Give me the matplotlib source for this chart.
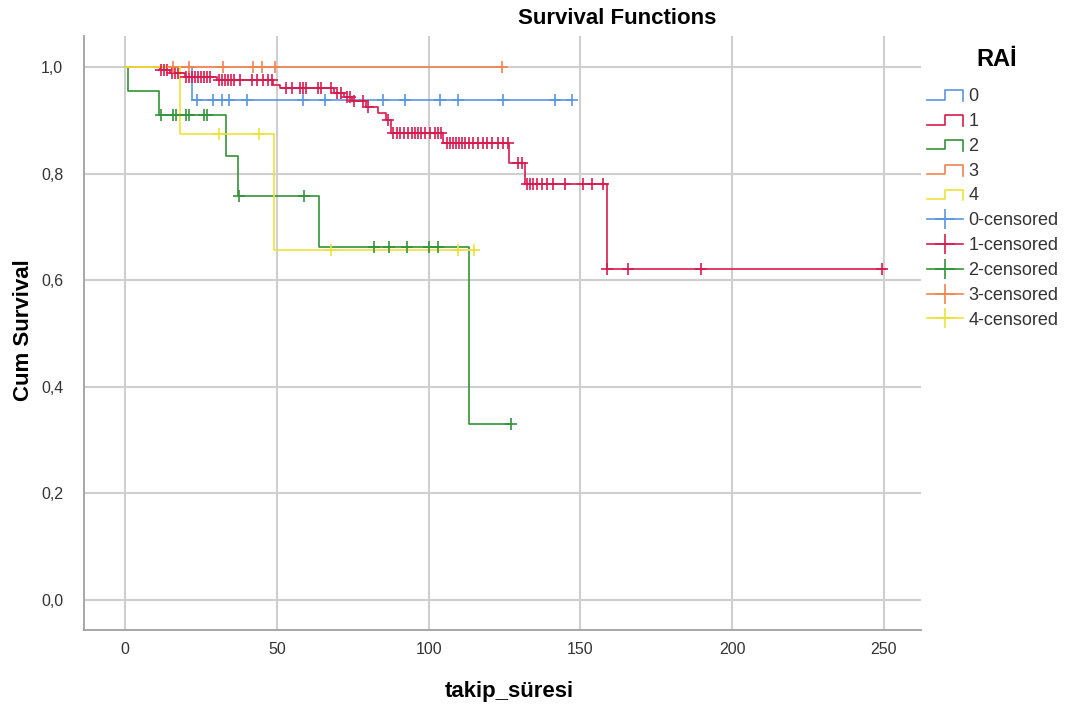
import matplotlib
matplotlib.use('Agg')
import matplotlib.pyplot as plt
import numpy as np
from matplotlib.lines import Line2D
from matplotlib.legend_handler import HandlerBase

plt.rcParams['font.family'] = ['Liberation Sans', 'DejaVu Sans']

# Kaplan-Meier steps, one set per RAİ group
groups = ['0', '1', '2', '3', '4']
colors = ['#5a96e0', '#d81b4f', '#33923a', '#f2844e', '#ece237']

# group 0
events_0 = [22.0]
surv_0 = [0.9375]
censored_0 = [23.7, 29, 32, 34.3, 40.2, 58.7, 66, 85, 92.3, 103.8, 109.8, 124.6, 141.7, 147.3]
end_0 = 147.3

# group 1
events_1 = [11.5, 14.8, 19.8, 30.3, 48.8, 51.1, 68.9, 72.2, 74.8, 79.4, 83.4, 86.0, 87.7,
            104.8, 126.6, 131.8, 158.8]
surv_1 = [0.994, 0.988, 0.982, 0.976, 0.966, 0.960, 0.952, 0.944, 0.937, 0.925, 0.914, 0.901,
          0.876, 0.857, 0.820, 0.780, 0.621]
censored_1 = [12, 13, 14, 15.5, 16.5, 17.5,
              20, 21, 22, 23, 24, 25, 26, 27, 28,
              31, 32, 33, 34, 35, 36, 38, 41.9, 43.5, 45.5, 47.1, 48.5,
              53, 55, 57.5, 58.5, 59.5, 63.5, 64.5, 68,
              70, 71, 73, 74, 75.5, 78.4, 80.1, 86.5,
              88.3, 89.6, 90.6, 91.9, 93.2, 94.5, 95.5, 96.5, 97.5, 98.8, 100.5, 102.1, 103.1, 104.2,
              106.1, 107.1, 108.1, 109.1, 110.1, 111.1, 112.1, 113.4, 114.7, 116.3, 118, 119.3,
              121, 122.9, 124.6, 126.2,
              129.5, 130.8,
              132.5, 133.5, 134.5, 135.8, 137.4, 139.1, 141.1, 145, 151, 153.9, 157.5,
              158.9, 165.8, 189.8, 249.5]
end_1 = 250.5

# group 2
events_2 = [1.0, 11.2, 33.2, 37.1, 64.0, 113.2]
surv_2 = [0.955, 0.909, 0.833, 0.758, 0.663, 0.331]
censored_2 = [11.9, 15.9, 16.8, 20.1, 21.0, 26.1, 26.9, 37.5, 59.1, 82, 87, 93, 100, 103, 127.1]
end_2 = 127.1

# group 3
events_3 = []
surv_3 = []
censored_3 = [15.8, 21.1, 32.3, 42.2, 45.2, 49.4, 124.3]
end_3 = 124.3

# group 4
events_4 = [18.1, 49.1]
surv_4 = [0.875, 0.656]
censored_4 = [31, 44.2, 67.9, 109.8, 115.0]
end_4 = 115.3

all_events = [events_0, events_1, events_2, events_3, events_4]
all_surv = [surv_0, surv_1, surv_2, surv_3, surv_4]
all_cens = [censored_0, censored_1, censored_2, censored_3, censored_4]
all_end = [end_0, end_1, end_2, end_3, end_4]

y_ticks = [0.0, 0.2, 0.4, 0.6, 0.8, 1.0]
x_ticks = [0, 50, 100, 150, 200, 250]


class HandlerStep(HandlerBase):
    # small step symbol like the SPSS legend
    def create_artists(self, legend, orig_handle, xdescent, ydescent, width, height, fontsize, trans):
        x0, y0 = -xdescent, -ydescent
        xs = [x0, x0 + width * 0.5, x0 + width * 0.5, x0 + width, x0 + width]
        ys = [y0 + height * 0.1, y0 + height * 0.1, y0 + height * 0.85, y0 + height * 0.85, y0 + height * 0.0]
        line = Line2D(xs, ys, color=orig_handle.get_color(), lw=orig_handle.get_linewidth())
        line.set_transform(trans)
        return [line]


fig = plt.figure(figsize=(10.7, 7.11), dpi=100)
ax = fig.add_axes((84 / 1070, 81 / 711, 837 / 1070, 594 / 711))

for ev, sv, end, col in zip(all_events, all_surv, all_end, colors):
    t = [0.0] + list(ev) + [end]
    s = [1.0] + list(sv) + [([1.0] + list(sv))[-1]]
    ax.step(t, s, where='post', color=col, lw=1.2, zorder=3)

for ev, sv, cens, col in zip(all_events, all_surv, all_cens, colors):
    levels = np.array([1.0] + list(sv))
    idx = np.searchsorted(np.array(ev), np.array(cens), side='right')
    ax.plot(cens, levels[idx], linestyle='none', marker='+', markersize=8, mew=1.2,
            color=col, zorder=4)

ax.set_xlim(-13.5, 262.2)
ax.set_ylim(-0.0563, 1.058)
ax.set_xticks(x_ticks)
ax.set_yticks(y_ticks)
ax.set_yticklabels([f'{v:.1f}'.replace('.', ',') for v in y_ticks])
ax.tick_params(length=0, labelsize=11.5, labelcolor='#333333')
ax.tick_params(axis='x', pad=9)
ax.tick_params(axis='y', pad=15)
ax.grid(True, color='#cfcfcf', lw=1.5)
ax.set_axisbelow(True)
for side in ['top', 'right']:
    ax.spines[side].set_visible(False)
for side in ['left', 'bottom']:
    ax.spines[side].set_color('#a0a0a0')
    ax.spines[side].set_linewidth(1.3)

ax.set_xlabel('takip_süresi', fontsize=16, fontweight='bold')
ax.set_ylabel('Cum Survival', fontsize=16, fontweight='bold')
ax.xaxis.set_label_coords(0.508, -0.086)
ax.yaxis.set_label_coords(-0.06, 0.505)
fig.text(617 / 1070, 1 - 19 / 711, 'Survival Functions', ha='center', va='center',
         fontsize=16, fontweight='bold')

# Legend: step symbols for groups, plus markers for censored
fig.text(997 / 1070, 1 - 60 / 711, 'RAİ', ha='center', va='center', fontsize=17, fontweight='bold')
step_handles = [Line2D([], [], color=c, lw=1.2) for c in colors]
cens_handles = [Line2D([], [], color=c, lw=1.2, marker='+', markersize=14, mew=1.2) for c in colors]
labels = groups + [g + '-censored' for g in groups]
leg = fig.legend(step_handles + cens_handles, labels, loc='upper left',
                 bbox_to_anchor=(927 / 1070, 1 - 88 / 711), bbox_transform=fig.transFigure,
                 frameon=False, fontsize=13, handlelength=2.0, handletextpad=0.28,
                 labelspacing=0.435, borderpad=0, borderaxespad=0, numpoints=1,
                 handler_map={h: HandlerStep() for h in step_handles})
for txt in leg.get_texts():
    txt.set_color('#333333')

fig.savefig('out.png', dpi=100)
